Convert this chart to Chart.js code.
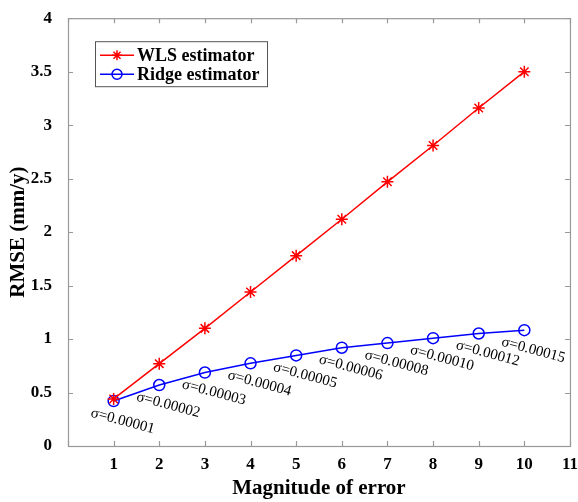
<!DOCTYPE html>
<html>
<head>
<meta charset="utf-8">
<script src="https://cdn.jsdelivr.net/npm/chart.js@4"></script>
<style>
  html, body { margin: 0; padding: 0; background: #fff; }
  #wrap { width: 578px; height: 502px; }
</style>
</head>
<body>
<div id="wrap"><canvas id="cv" width="578" height="502"></canvas></div>
<script>
// RMSE vs magnitude of error, WLS vs ridge
const magnitudes = [1, 2, 3, 4, 5, 6, 7, 8, 9, 10]
const wlsRmse = [0.44, 0.77, 1.10, 1.44, 1.78, 2.12, 2.47, 2.81, 3.16, 3.50]
const ridgeRmse = [0.42, 0.57, 0.687, 0.773, 0.847, 0.919, 0.962, 1.008, 1.052, 1.083]
const sigmaLabels = ['σ=0.00001', 'σ=0.00002', 'σ=0.00003', 'σ=0.00004', 'σ=0.00005',
  'σ=0.00006', 'σ=0.00008', 'σ=0.00010', 'σ=0.00012', 'σ=0.00015']
const xTicks = [0, 1, 2, 3, 4, 5, 6, 7, 8, 9, 10, 11]
const yTicks = [0, 0.5, 1, 1.5, 2, 2.5, 3, 3.5, 4]

const SERIF = '"Liberation Serif", "Times New Roman", serif'
const AXIS_GRAY = '#999999'
const RED = '#ff0000'
const BLUE = '#0000ff'

// box around the plot plus inward ticks on all four sides
const frame = {
  id: 'frame',
  afterDraw(chart) {
    const { ctx, chartArea: a, scales } = chart
    const len = 5
    ctx.save()
    ctx.strokeStyle = AXIS_GRAY
    ctx.lineWidth = 1.2
    ctx.strokeRect(a.left + 0.5, a.top + 0.5, a.right - a.left, a.bottom - a.top)
    ctx.beginPath()
    xTicks.forEach(v => {
      const px = Math.round(scales.x.getPixelForValue(v)) + 0.5
      ctx.moveTo(px, a.bottom); ctx.lineTo(px, a.bottom - len)
      ctx.moveTo(px, a.top); ctx.lineTo(px, a.top + len)
    })
    yTicks.forEach(v => {
      const py = Math.round(scales.y.getPixelForValue(v)) + 0.5
      ctx.moveTo(a.left, py); ctx.lineTo(a.left + len, py)
      ctx.moveTo(a.right, py); ctx.lineTo(a.right - len, py)
    })
    ctx.stroke()
    ctx.restore()
  }
}

// tilted sigma labels under each ridge point
const sigmaText = {
  id: 'sigmaText',
  afterDatasetsDraw(chart) {
    const { ctx, scales } = chart
    ctx.save()
    ctx.fillStyle = '#000'
    ctx.font = '15px ' + SERIF
    ctx.textAlign = 'center'
    ctx.textBaseline = 'middle'
    magnitudes.forEach((m, i) => {
      const px = scales.x.getPixelForValue(m)
      const py = scales.y.getPixelForValue(ridgeRmse[i])
      ctx.save()
      ctx.translate(px + 9, py + 20)
      ctx.rotate(15 * Math.PI / 180)
      ctx.fillText(sigmaLabels[i], 0, 0)
      ctx.restore()
    })
    ctx.restore()
  }
}

// legend box in the upper left of the plot
const boxLegend = {
  id: 'boxLegend',
  afterDatasetsDraw(chart) {
    const { ctx, chartArea: a } = chart
    const x0 = a.left + 27, y0 = a.top + 23, w = 172, h = 45
    ctx.save()
    ctx.fillStyle = '#fff'
    ctx.fillRect(x0, y0, w, h)
    ctx.strokeStyle = '#555'
    ctx.lineWidth = 1
    ctx.strokeRect(x0 + 0.5, y0 + 0.5, w, h)
    const rows = [
      { label: 'WLS estimator', color: RED, style: 'star', y: y0 + 14 },
      { label: 'Ridge estimator', color: BLUE, style: 'circle', y: y0 + 33 }
    ]
    rows.forEach(r => {
      ctx.strokeStyle = r.color
      ctx.lineWidth = 1.5
      ctx.beginPath()
      ctx.moveTo(x0 + 5, r.y); ctx.lineTo(x0 + 39, r.y)
      ctx.stroke()
      ctx.fillStyle = 'rgba(0,0,0,0)'
      Chart.helpers.drawPoint(ctx, { pointStyle: r.style, radius: 5, borderWidth: 1.5 }, x0 + 22, r.y)
      ctx.fillStyle = '#000'
      ctx.font = 'bold 18px ' + SERIF
      ctx.textAlign = 'left'
      ctx.textBaseline = 'middle'
      ctx.fillText(r.label, x0 + 42, r.y + 1)
    })
    ctx.restore()
  }
}

const chart = new Chart(document.getElementById('cv').getContext('2d'), {
  type: 'line',
  data: {
    datasets: [{
      label: 'WLS estimator',
      data: magnitudes.map((m, i) => ({ x: m, y: wlsRmse[i] })),
      borderColor: RED,
      backgroundColor: RED,
      borderWidth: 1.5,
      pointStyle: 'star',
      pointRadius: 6,
      pointBorderWidth: 1.5,
      pointBorderColor: RED,
      tension: 0
    }, {
      label: 'Ridge estimator',
      data: magnitudes.map((m, i) => ({ x: m, y: ridgeRmse[i] })),
      borderColor: BLUE,
      backgroundColor: 'rgba(0,0,0,0)',
      borderWidth: 1.5,
      pointStyle: 'circle',
      pointRadius: 5.5,
      pointBorderWidth: 1.5,
      pointBorderColor: BLUE,
      tension: 0
    }]
  },
  options: {
    responsive: false,
    animation: false,
    layout: { padding: { left: 6, top: 15, right: 7, bottom: 0 } },
    plugins: {
      legend: { display: false },
      tooltip: { enabled: false }
    },
    scales: {
      x: {
        type: 'linear',
        min: 0, max: 11,
        afterBuildTicks: s => { s.ticks = xTicks.map(v => ({ value: v })) },
        afterFit: s => { s.height = 56 },
        grid: { display: false },
        border: { display: false },
        ticks: {
          color: '#000',
          font: { family: SERIF, size: 17, weight: 'bold' },
          padding: 0,
          maxRotation: 0,
          callback: v => v === 0 ? '' : String(v)
        },
        title: {
          display: true,
          text: 'Magnitude of error',
          color: '#000',
          font: { family: SERIF, size: 21, weight: 'bold' },
          padding: { top: 0, bottom: 1 }
        }
      },
      y: {
        min: 0, max: 4,
        afterBuildTicks: s => { s.ticks = yTicks.map(v => ({ value: v })) },
        afterFit: s => { s.width = 62 },
        grid: { display: false },
        border: { display: false },
        ticks: {
          color: '#000',
          font: { family: SERIF, size: 17, weight: 'bold' },
          padding: 8,
          callback: v => String(v)
        },
        title: {
          display: true,
          text: 'RMSE (mm/y)',
          color: '#000',
          font: { family: SERIF, size: 21, weight: 'bold' },
          padding: { top: 0, bottom: 4 }
        }
      }
    }
  },
  plugins: [frame, sigmaText, boxLegend]
})
</script>
</body>
</html>
